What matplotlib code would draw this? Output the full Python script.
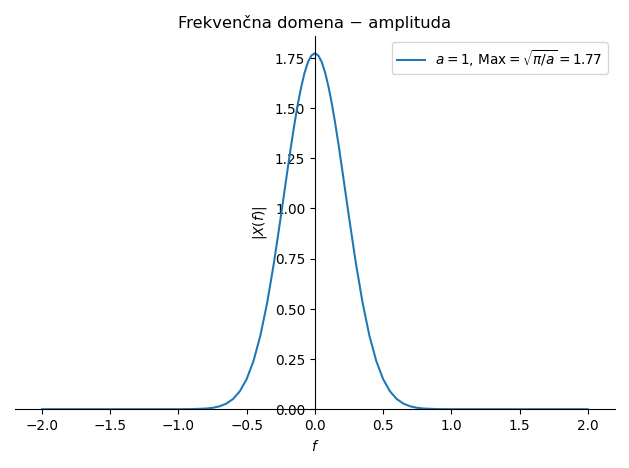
import matplotlib
matplotlib.use("Agg")
import matplotlib.pyplot as plt

pos_f = [0.0, 0.025, 0.05, 0.075, 0.10, 0.125, 0.15, 0.175, 0.20, 0.25, 0.30, 0.35, 0.40, 0.45, 0.50, 0.55,
         0.60, 0.65, 0.70, 0.75, 0.80, 0.90, 1.0, 1.5, 2.0]
pos_y = [1.772, 1.761, 1.729, 1.676, 1.605, 1.519, 1.419, 1.310, 1.194, 0.957, 0.729, 0.529, 0.365, 0.240,
         0.150, 0.0895, 0.0507, 0.0274, 0.0141, 0.0069, 0.0032, 0.0006, 0.0001, 0.0, 0.0]
f = [-v for v in pos_f[:0:-1]] + pos_f
y = pos_y[:0:-1] + pos_y

fig, ax = plt.subplots(figsize=(6.4, 4.76), dpi=98.4)
ax.plot(f, y, label=r"$a=1$, Max$=\sqrt{\pi/a}=1.77$")
ax.spines['left'].set_position('zero')
ax.spines['bottom'].set_position('zero')
ax.spines['top'].set_visible(False)
ax.spines['right'].set_visible(False)
ax.set_xlim(-2.2, 2.2)
ax.set_ylim(0, 1.86)
ax.set_xlabel("$f$")
ax.set_ylabel(r"$|X(f)|$")
ax.set_title("Frekvenčna domena − amplituda")
ax.legend(loc="upper right")
fig.tight_layout()
fig.savefig("out.png")
